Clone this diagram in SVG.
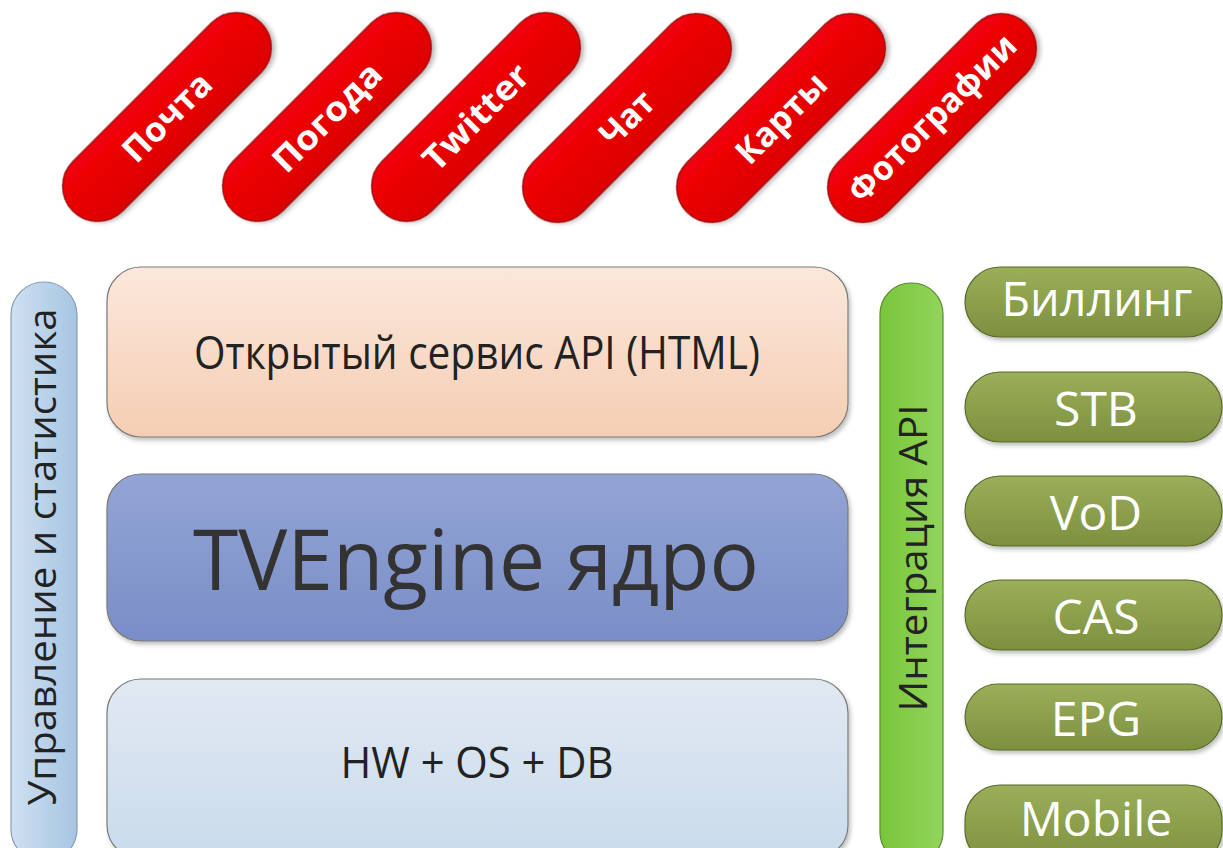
<svg xmlns="http://www.w3.org/2000/svg" width="1223" height="848" viewBox="0 0 1223 848">
<defs>
<linearGradient id="gRed" x1="0" y1="0" x2="0" y2="1"><stop offset="0" stop-color="#f20008"/><stop offset="1" stop-color="#dc0000"/></linearGradient>
<linearGradient id="gPeach" x1="0" y1="0" x2="0" y2="1"><stop offset="0" stop-color="#fbe8db"/><stop offset="1" stop-color="#f5cdb3"/></linearGradient>
<linearGradient id="gBlue" x1="0" y1="0" x2="0" y2="1"><stop offset="0" stop-color="#93a5d4"/><stop offset="1" stop-color="#7a8dc7"/></linearGradient>
<linearGradient id="gPale" x1="0" y1="0" x2="0" y2="1"><stop offset="0" stop-color="#e1e9f2"/><stop offset="1" stop-color="#c9dbec"/></linearGradient>
<linearGradient id="gLeft" x1="0" y1="0" x2="1" y2="0"><stop offset="0" stop-color="#cfe0f1"/><stop offset="1" stop-color="#a6c5e2"/></linearGradient>
<linearGradient id="gGreen" x1="0" y1="0" x2="1" y2="0"><stop offset="0" stop-color="#78c63a"/><stop offset="1" stop-color="#92d45c"/></linearGradient>
<linearGradient id="gOlive" x1="0" y1="0" x2="0" y2="1"><stop offset="0" stop-color="#9bae5a"/><stop offset="1" stop-color="#7c903f"/></linearGradient>
<filter id="sh" x="-10%" y="-10%" width="120%" height="130%"><feDropShadow dx="2" dy="3" stdDeviation="2" flood-color="#000" flood-opacity="0.25"/></filter>
</defs>
<style>
.red{fill:url(#gRed);stroke:#9e0e0e;stroke-width:1.5}
.rt{font-family:"Open Sans","Liberation Sans",sans-serif;font-weight:bold;font-size:34px;fill:#fff;text-anchor:middle}
.box{stroke:#7a7a7a;stroke-width:1.2}
.mt{font-family:"Open Sans","Liberation Sans",sans-serif;fill:#222;text-anchor:middle}
.ol{fill:url(#gOlive);stroke:#5b6b2a;stroke-width:1.2}
.ot{font-family:"Open Sans","Liberation Sans",sans-serif;font-size:48px;fill:#fff;text-anchor:middle}
</style>
<rect width="1223" height="848" fill="#fff"/>

<g id="pill-pochta" transform="translate(167,117) rotate(-45)"><rect class="red" x="-133" y="-35" width="266" height="70" rx="35" filter="url(#sh)"/><text class="rt" x="0" y="12" textLength="111" lengthAdjust="spacingAndGlyphs">Почта</text></g>
<g id="pill-pogoda" transform="translate(327,117) rotate(-45)"><rect class="red" x="-133" y="-35" width="266" height="70" rx="35" filter="url(#sh)"/><text class="rt" x="0" y="12" textLength="139" lengthAdjust="spacingAndGlyphs">Погода</text></g>
<g id="pill-twitter" transform="translate(476,117) rotate(-45)"><rect class="red" x="-133" y="-35" width="266" height="70" rx="35" filter="url(#sh)"/><text class="rt" x="0" y="12" textLength="135" lengthAdjust="spacingAndGlyphs">Twitter</text></g>
<g id="pill-chat" transform="translate(627,118) rotate(-45)"><rect class="red" x="-133" y="-35" width="266" height="70" rx="35" filter="url(#sh)"/><text class="rt" x="0" y="12" textLength="62" lengthAdjust="spacingAndGlyphs">Чат</text></g>
<g id="pill-karty" transform="translate(781,118) rotate(-45)"><rect class="red" x="-133" y="-35" width="266" height="70" rx="35" filter="url(#sh)"/><text class="rt" x="0" y="12" textLength="113" lengthAdjust="spacingAndGlyphs">Карты</text></g>
<g id="pill-foto" transform="translate(932,118) rotate(-45)"><rect class="red" x="-133" y="-35" width="266" height="70" rx="35" filter="url(#sh)"/><text class="rt" x="0" y="12" textLength="222" lengthAdjust="spacingAndGlyphs">Фотографии</text></g>

<g id="mgmt"><rect x="11" y="282" width="66" height="580" rx="33" fill="url(#gLeft)" stroke="#8a9bb0" stroke-width="1.2"/><text class="mt" transform="translate(56,557) rotate(-90)" font-size="38" textLength="497" lengthAdjust="spacingAndGlyphs">Управление и статистика</text></g>

<g id="open-api"><rect class="box" x="107" y="267" width="741" height="170" rx="34" fill="url(#gPeach)" filter="url(#sh)"/><text class="mt" x="477" y="369" font-size="46" textLength="566" lengthAdjust="spacingAndGlyphs">Открытый сервис API (HTML)</text></g>
<g id="core"><rect class="box" x="107" y="474" width="741" height="167" rx="34" fill="url(#gBlue)" stroke="#5a6a8a" filter="url(#sh)"/><text class="mt" x="476" y="590" font-size="84" fill="#333" style="fill:#333" textLength="566" lengthAdjust="spacingAndGlyphs">TVEngine ядро</text></g>
<g id="hw"><rect class="box" x="107" y="679" width="741" height="180" rx="34" fill="url(#gPale)" filter="url(#sh)"/><text class="mt" x="477" y="778" font-size="43" textLength="273" lengthAdjust="spacingAndGlyphs">HW + OS + DB</text></g>

<g id="integration"><rect x="880" y="283" width="63" height="580" rx="31" fill="url(#gGreen)" stroke="#5a8a30" stroke-width="1.2"/><text class="mt" transform="translate(927,558) rotate(-90)" font-size="38" textLength="307" lengthAdjust="spacingAndGlyphs">Интеграция API</text></g>

<g id="billing"><rect class="ol" x="965" y="267" width="257" height="70" rx="35" filter="url(#sh)"/><text class="ot" x="1097" y="316" font-size="41" textLength="191" lengthAdjust="spacingAndGlyphs">Биллинг</text></g>
<g id="stb"><rect class="ol" x="965" y="372" width="257" height="70" rx="35" filter="url(#sh)"/><text class="ot" x="1096" y="426">STB</text></g>
<g id="vod"><rect class="ol" x="965" y="476" width="257" height="70" rx="35" filter="url(#sh)"/><text class="ot" x="1096" y="530">VoD</text></g>
<g id="cas"><rect class="ol" x="965" y="580" width="257" height="70" rx="35" filter="url(#sh)"/><text class="ot" x="1096" y="634">CAS</text></g>
<g id="epg"><rect class="ol" x="965" y="684" width="257" height="66" rx="33" filter="url(#sh)"/><text class="ot" x="1096" y="736">EPG</text></g>
<g id="mobile"><rect class="ol" x="965" y="785" width="257" height="80" rx="35" filter="url(#sh)"/><text class="ot" x="1096" y="836">Mobile</text></g>
<g id="connectors"/>
</svg>
